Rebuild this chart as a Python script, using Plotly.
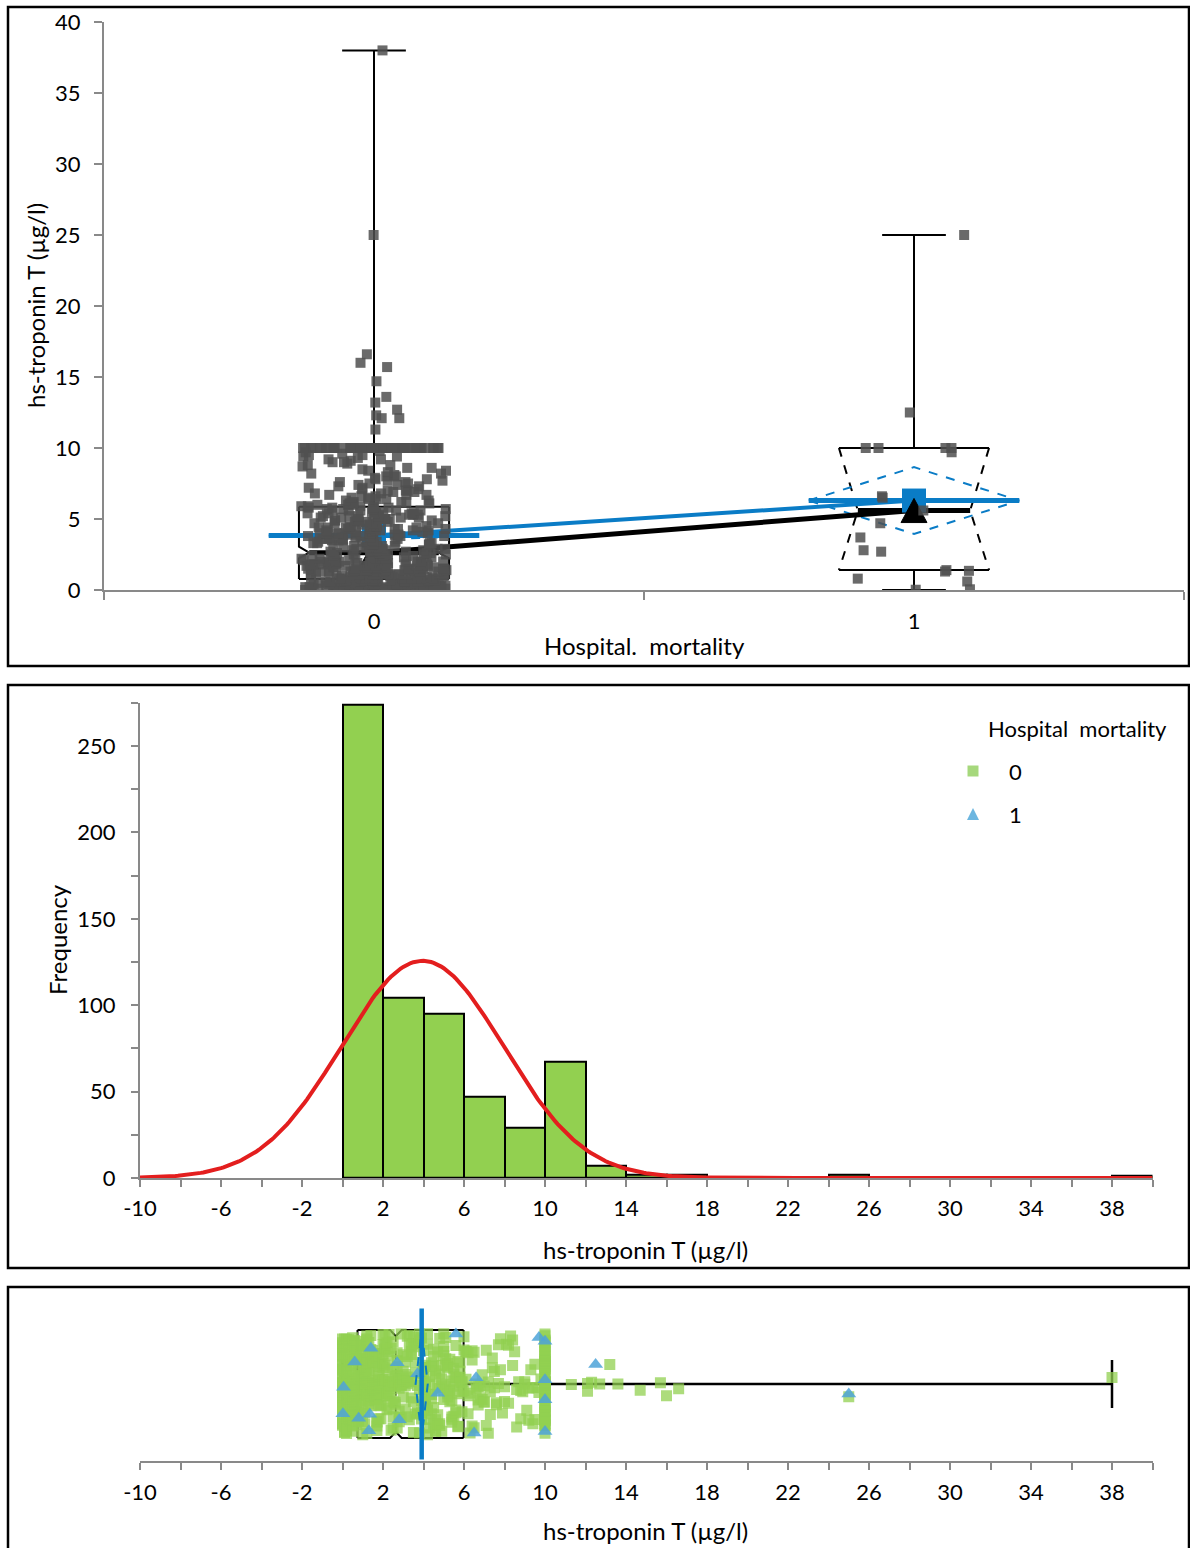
import numpy as np
import plotly.graph_objects as go

W, H = 1190, 1548

# ---------------- data ----------------
# Group "0" (hospital mortality = 0): distinct hs-troponin T values and how often each occurs
g0_values = [
    0.0, 0.1, 0.2, 0.3, 0.4, 0.5, 0.6, 0.7, 0.8, 0.9,
    1.0, 1.1, 1.2, 1.3, 1.4, 1.5, 1.6, 1.7, 1.8, 1.9,
    2.0, 2.1, 2.2, 2.3, 2.4, 2.5, 2.6, 2.7, 2.8, 2.9,
    3.0, 3.1, 3.2, 3.3, 3.4, 3.5, 3.6, 3.7, 3.8, 3.9,
    4.0, 4.1, 4.2, 4.3, 4.4, 4.5, 4.6, 4.7, 4.8, 4.9,
    5.0, 5.1, 5.2, 5.3, 5.4, 5.5, 5.6, 5.7, 5.8, 5.9,
    6.0, 6.1, 6.2, 6.3, 6.4, 6.5, 6.6, 6.7, 6.8, 6.9,
    7.0, 7.1, 7.2, 7.3, 7.4, 7.5, 7.6, 7.7, 7.8, 7.9,
    8.0, 8.1, 8.2, 8.3, 8.4, 8.5, 8.6, 8.7, 8.8, 8.9,
    9.0, 9.1, 9.2, 9.3, 9.4, 9.5, 9.6, 9.7, 9.8, 9.9,
    10.0, 11.3, 12.1, 12.3, 12.7, 13.2, 13.6, 14.7, 15.7, 16.0, 16.6, 25.0, 38.0,
]
g0_counts = [
    40, 25, 20, 18, 16, 14, 12, 10, 11, 10,
    11, 10, 9, 10, 9, 9, 8, 9, 8, 8,
    7, 6, 6, 6, 5, 6, 5, 5, 5, 5,
    5, 5, 5, 4, 5, 4, 4, 4, 4, 5,
    6, 5, 5, 5, 5, 5, 5, 4, 5, 4,
    5, 4, 5, 4, 5, 4, 5, 4, 4, 4,
    3, 3, 3, 2, 3, 2, 2, 3, 2, 2,
    3, 2, 2, 2, 2, 2, 2, 2, 2, 1,
    2, 1, 2, 1, 2, 1, 2, 1, 2, 1,
    2, 1, 2, 1, 2, 2, 1, 1, 1, 0,
    62, 1, 2, 1, 1, 1, 1, 1, 1, 1, 1, 1, 1,
]
# Group "1" (hospital mortality = 1)
g1_values = [25.0, 12.5, 10.0, 10.0, 10.0, 10.0, 9.7, 6.6, 6.5, 5.6, 4.7,
             3.7, 2.8, 2.7, 1.4, 1.35, 1.3, 0.8, 0.6, 0.05, 0.02]

group_labels = ["0", "1"]
# box-plot statistics per group (top panel)
box_low = [0.0, 0.0]
box_q1 = [0.77, 1.4]
box_median = [2.63, 5.6]
box_q3 = [5.87, 10.0]
box_high = [38.0, 25.0]
notch_lo = [2.23, 1.4]
notch_hi = [3.05, 10.0]
group_mean = [3.83, 6.3]
mean_ci = [0.3, 2.35]

# statistics of all values (bottom panel)
all_low, all_q1, all_median, all_q3, all_high = 0.0, 0.74, 2.63, 5.98, 38.0
all_notch_lo, all_notch_hi = 2.35, 2.92
all_mean, all_mean_ci = 3.91, 0.3

# fitted normal curve of the histogram
normal_mean, normal_sd = 3.95, 4.0
hist_start, hist_end, hist_size = 0, 40, 2

# axis ticks
p1_yticks = [0, 5, 10, 15, 20, 25, 30, 35, 40]
hist_yticks = [0, 50, 100, 150, 200, 250]
value_xticks = [-10, -6, -2, 2, 6, 10, 14, 18, 22, 26, 30, 34, 38]

# ---------------- styles ----------------
FONT = "Lato"
FS = 22
FT = 24
AXC = "#898989"
GRAY = "#505050"
BLUE = "#0A7CC6"
GREEN_BAR = "#92D050"
GREEN_PT = "#92D050"
TRI = "#4DA3D8"
RED = "#E31E1E"

g0 = np.repeat(np.array(g0_values), np.array(g0_counts))
g1 = np.array(g1_values)
all_vals = np.concatenate([g0, g1])
N = len(all_vals)


def jitter(n, salt, power=1.5):
    i = np.arange(1, n + 1)
    u = np.modf(np.abs(np.sin(i * 12.9898 + salt) * 43758.5453))[0]
    s = 2 * u - 1
    return np.sign(s) * np.abs(s) ** power


def spread(v, ref=all_vals, window=1.0, full=30.0):
    # jitter amplitude grows with the local density of points (sparse outliers stay near the centre)
    n = np.array([np.sum(np.abs(ref - t) <= window) for t in v])
    return np.clip(np.sqrt(n / full), 0.12, 1.0)


def px(x):
    return x / W


def py(y):
    return 1 - y / H


fig = go.Figure()


def line(x, y, xa, ya, color="black", width=2, dash="solid"):
    fig.add_trace(go.Scatter(x=x, y=y, xaxis=xa, yaxis=ya, mode="lines",
                             line=dict(color=color, width=width, dash=dash),
                             hoverinfo="skip", showlegend=False))


# ---------------- panel 1: box plots by group ----------------
HW = 0.139
INSET = [0.019, 0.035]
CAP = 0.059
MHW = 0.195
TRI_HW, TRI_H = 0.024, 0.85
for k in range(2):
    c = k
    q1, q3, med = box_q1[k], box_q3[k], box_median[k]
    nl, nh = notch_lo[k], notch_hi[k]
    outside = nl <= q1 or nh >= q3
    nl_c, nh_c = max(nl, q1), min(nh, q3)
    ins = INSET[k]
    dash = "dash" if outside else "solid"
    line([c, c], [q3, box_high[k]], "x", "y")
    line([c, c], [q1, box_low[k]], "x", "y")
    line([c - CAP, c + CAP], [box_high[k]] * 2, "x", "y")
    line([c - CAP, c + CAP], [box_low[k]] * 2, "x", "y")
    line([c - HW, c + HW], [q3, q3], "x", "y")
    line([c - HW, c + HW], [q1, q1], "x", "y")
    line([c - HW, c - HW, c - HW + ins, c - HW, c - HW], [q3, nh_c, med, nl_c, q1], "x", "y", dash=dash)
    line([c + HW, c + HW, c + HW - ins, c + HW, c + HW], [q3, nh_c, med, nl_c, q1], "x", "y", dash=dash)
    line([c - HW + ins, c + HW - ins], [med, med], "x", "y", width=5)
    m, ci = group_mean[k], mean_ci[k]
    line([c - MHW, c, c + MHW, c, c - MHW], [m, m + ci, m, m - ci, m], "x", "y", color=BLUE, width=2, dash="dash")
    line([c - MHW, c + MHW], [m, m], "x", "y", color=BLUE, width=5)

line([0, 1], box_median, "x", "y", width=5)
line([0, 1], group_mean, "x", "y", color=BLUE, width=4)
fig.add_trace(go.Scatter(x=[0, 1], y=group_mean, mode="markers", xaxis="x", yaxis="y",
                         marker=dict(symbol="square", size=24, color=BLUE),
                         hoverinfo="skip", showlegend=False))
for k in range(2):
    med = box_median[k]
    fig.add_trace(go.Scatter(x=[k - TRI_HW, k + TRI_HW, k, k - TRI_HW],
                             y=[med - TRI_H, med - TRI_H, med + TRI_H, med - TRI_H],
                             xaxis="x", yaxis="y", mode="lines", fill="toself", fillcolor="black",
                             line=dict(color="black", width=1), hoverinfo="skip", showlegend=False))
fig.add_trace(go.Scatter(x=0 + 0.135 * spread(g0, g0) * jitter(len(g0), 1.0), y=g0, mode="markers",
                         xaxis="x", yaxis="y",
                         marker=dict(symbol="square", size=10, color=GRAY, opacity=0.85),
                         hoverinfo="skip", showlegend=False))
fig.add_trace(go.Scatter(x=1 + 0.11 * jitter(len(g1), 7.0, 1.3), y=g1, mode="markers", xaxis="x", yaxis="y",
                         marker=dict(symbol="square", size=10, color=GRAY, opacity=0.85),
                         hoverinfo="skip", showlegend=False))

# ---------------- panel 2: histogram + normal curve ----------------
fig.add_trace(go.Histogram(x=all_vals, xaxis="x2", yaxis="y2",
                           xbins=dict(start=hist_start, end=hist_end, size=hist_size),
                           marker=dict(color=GREEN_BAR, line=dict(color="black", width=2)),
                           hoverinfo="skip", showlegend=False))
xc = np.linspace(-10, 40, 401)
yc = N * hist_size * np.exp(-0.5 * ((xc - normal_mean) / normal_sd) ** 2) / (normal_sd * np.sqrt(2 * np.pi))
line(xc, yc, "x2", "y2", color=RED, width=4)

# ---------------- panel 3: horizontal box + strip ----------------
BH = 0.35
INS3 = 0.04
line([all_q1, all_q1], [0.5 - BH, 0.5 + BH], "x3", "y3")
line([all_q3, all_q3], [0.5 - BH, 0.5 + BH], "x3", "y3")
line([all_q1, all_notch_lo, all_median, all_notch_hi, all_q3],
     [0.5 + BH, 0.5 + BH, 0.5 + BH - INS3, 0.5 + BH, 0.5 + BH], "x3", "y3")
line([all_q1, all_notch_lo, all_median, all_notch_hi, all_q3],
     [0.5 - BH, 0.5 - BH, 0.5 - BH + INS3, 0.5 - BH, 0.5 - BH], "x3", "y3")
line([all_median, all_median], [0.5 - BH + INS3, 0.5 + BH - INS3], "x3", "y3", width=1.5, dash="dash")
line([all_q3, all_high], [0.5, 0.5], "x3", "y3", width=2.5)
line([all_q1, all_low], [0.5, 0.5], "x3", "y3", width=2.5)
line([all_high, all_high], [0.5 - 0.156, 0.5 + 0.156], "x3", "y3", width=2.5)
line([all_low, all_low], [0.5 - 0.156, 0.5 + 0.156], "x3", "y3", width=2.5)

fig.add_trace(go.Scatter(x=g0, y=0.5 + 0.33 * spread(g0) * jitter(len(g0), 3.0), mode="markers",
                         xaxis="x3", yaxis="y3",
                         marker=dict(symbol="square", size=11, color=GREEN_PT, opacity=0.75),
                         hoverinfo="skip", showlegend=False))
fig.add_trace(go.Scatter(x=g1, y=0.5 + 0.33 * spread(g1) * jitter(len(g1), 5.0, 1.0), mode="markers",
                         xaxis="x3", yaxis="y3",
                         marker=dict(symbol="triangle-up", size=13, color=TRI, opacity=0.85),
                         hoverinfo="skip", showlegend=False))
line([all_mean - all_mean_ci, all_mean, all_mean + all_mean_ci, all_mean, all_mean - all_mean_ci],
     [0.5, 0.5 + BH, 0.5, 0.5 - BH, 0.5], "x3", "y3", color=BLUE, width=2, dash="dash")
line([all_mean, all_mean], [0.01, 0.99], "x3", "y3", color=BLUE, width=4.5)

# ---------------- axes ----------------
tickfont = dict(family=FONT, size=FS, color="black")
common = dict(showline=True, linecolor=AXC, linewidth=2, showgrid=False, zeroline=False,
              tickfont=tickfont, fixedrange=True, automargin=False)
vt_text = [str(v) for v in value_xticks]

fig.update_layout(
    template="none",
    xaxis=dict(domain=[px(104), px(1184)], range=[-0.5, 1.5], anchor="y",
               tickvals=[0, 1], ticktext=group_labels, ticks="outside", ticklen=8,
               tickcolor="rgba(0,0,0,0)", ticklabelstandoff=3,
               minor=dict(tickvals=[-0.5, 0.5, 1.5], ticks="outside", ticklen=8, tickcolor=AXC, tickwidth=2),
               **common),
    yaxis=dict(domain=[py(590), py(22)], range=[0, 40], anchor="x",
               tickvals=p1_yticks, ticktext=[str(v) for v in p1_yticks],
               ticks="outside", ticklen=8, tickcolor=AXC, tickwidth=2, ticklabelstandoff=9, **common),
    xaxis2=dict(domain=[px(140), px(1152.5)], range=[-10, 40], anchor="y2",
                tickvals=value_xticks, ticktext=vt_text, ticks="outside", ticklen=7, tickcolor=AXC,
                tickwidth=2, ticklabelstandoff=3,
                minor=dict(dtick=2, tick0=-10, ticks="outside", ticklen=7, tickcolor=AXC, tickwidth=2),
                **common),
    yaxis2=dict(domain=[py(1178), py(702.8)], range=[0, 275], anchor="x2",
                tickvals=hist_yticks, ticktext=[str(v) for v in hist_yticks],
                ticks="outside", ticklen=7, tickcolor=AXC, tickwidth=2, ticklabelstandoff=11,
                minor=dict(dtick=25, tick0=0, ticks="outside", ticklen=7, tickcolor=AXC, tickwidth=2),
                **common),
    xaxis3=dict(domain=[px(140), px(1152.5)], range=[-10, 40], anchor="y3",
                tickvals=value_xticks, ticktext=vt_text, ticks="outside", ticklen=7, tickcolor=AXC,
                tickwidth=2, ticklabelstandoff=4,
                minor=dict(dtick=2, tick0=-10, ticks="outside", ticklen=7, tickcolor=AXC, tickwidth=2),
                **common),
    yaxis3=dict(domain=[py(1461), py(1307)], range=[0, 1], anchor="x3", visible=False, fixedrange=True,
                automargin=False),
)

# ---------------- titles / legend / frames ----------------
ann = []


def text(x, y, s, angle=0, xanchor="center", size=FT):
    ann.append(dict(x=px(x), y=py(y), xref="paper", yref="paper", text=s, showarrow=False,
                    textangle=angle, xanchor=xanchor, yanchor="middle",
                    font=dict(family=FONT, size=size, color="black")))


text(35, 306, "hs-troponin T (µg/l)", angle=-90)
text(644, 646, "Hospital.\u00a0 mortality")
text(57, 940, "Frequency", angle=-90)
text(645, 1249, "hs-troponin T (µg/l)")
text(645, 1530, "hs-troponin T (µg/l)")
text(986, 729, "Hospital\u00a0 mortality", xanchor="left", size=FS)
text(1007, 771, group_labels[0], xanchor="left", size=FS)
text(1007, 814, group_labels[1], xanchor="left", size=FS)

shapes = []
for (x0, y0, x1, y1) in [(8, 7, 1189, 666), (8, 685, 1189, 1268), (8, 1287, 1189, 1552)]:
    shapes.append(dict(type="rect", xref="paper", yref="paper", x0=px(x0), x1=px(x1), y0=py(y0), y1=py(y1),
                       line=dict(color="black", width=2.5), fillcolor="rgba(0,0,0,0)", layer="above"))
shapes.append(dict(type="rect", xref="paper", yref="paper", x0=px(967.5), x1=px(978.5),
                   y0=py(776.5), y1=py(765.5), line=dict(width=0), fillcolor="#A6D87C"))
shapes.append(dict(type="path", xref="paper", yref="paper",
                   path=f"M {px(967)},{py(820)} L {px(979)},{py(820)} L {px(973)},{py(808)} Z",
                   line=dict(width=0), fillcolor="#6CB6E0"))

fig.update_layout(width=W, height=H, autosize=False, margin=dict(l=0, r=0, t=0, b=0, pad=0),
                  paper_bgcolor="white", plot_bgcolor="white", annotations=ann, shapes=shapes,
                  showlegend=False, bargap=0, font=dict(family=FONT, size=FS, color="black"))

fig.write_html("out.html", config={"responsive": False, "displayModeBar": False},
               post_script="document.body.style.margin='0';document.body.style.overflow='hidden';")
